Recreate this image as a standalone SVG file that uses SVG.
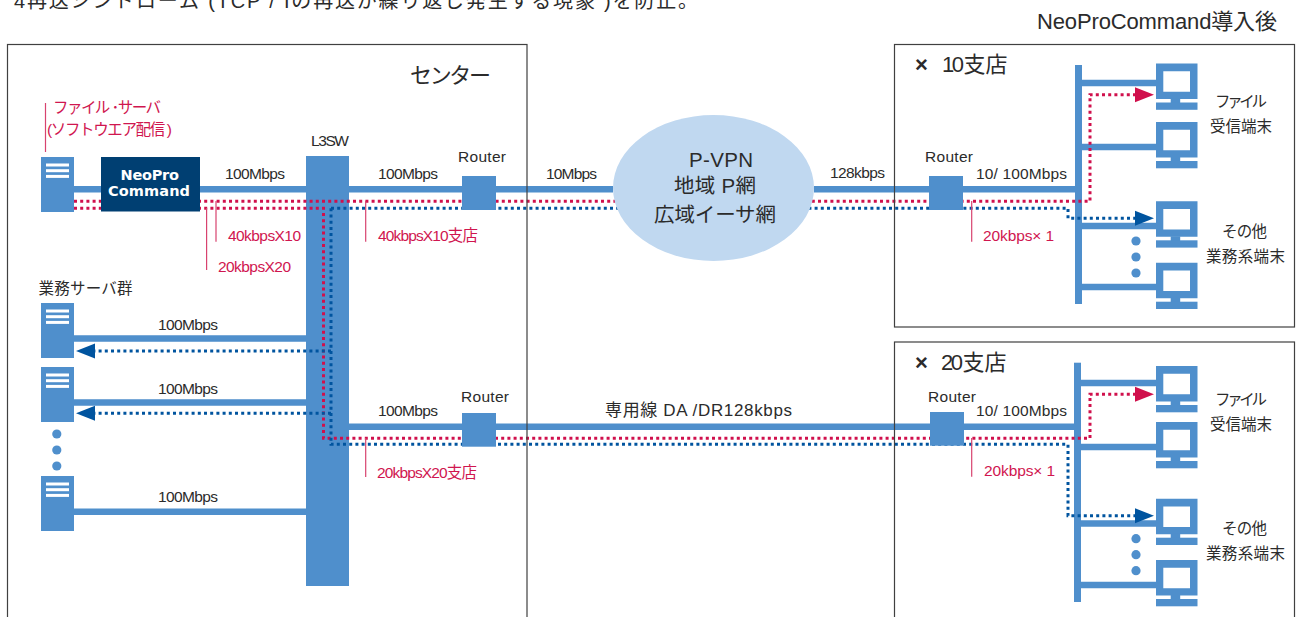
<svg xmlns="http://www.w3.org/2000/svg" width="1297" height="617" viewBox="0 0 1297 617">
<style>
text{font-family:"Liberation Sans","Noto Sans CJK JP",sans-serif;fill:#2b2b2b;font-size:15.5px}
.r{fill:#d0164f}
.l{fill:#4f8fcc}
.b{fill:none;stroke:#404040;stroke-width:1.2}
.w{stroke:#4f8fcc;stroke-width:6.6;fill:none}
.dr{stroke:#d0104c;stroke-width:3;stroke-dasharray:3 3.2;fill:none}
.db{stroke:#00549f;stroke-width:3;stroke-dasharray:3 3.2;fill:none}
.ld{stroke:#d8436f;stroke-width:1.2;fill:none}
.big{font-size:20.5px}
.lb{font-size:15.5px}
.hd{font-size:22px}
.np{font-family:"DejaVu Sans",sans-serif;font-weight:700;font-size:14.5px;fill:#fff}
</style>
<defs>
<marker id="ar" markerUnits="userSpaceOnUse" markerWidth="19" markerHeight="16" refX="0" refY="8" orient="auto"><path d="M0,0.5L19,8L0,15.5z" fill="#d0104c"/></marker>
<marker id="ab" markerUnits="userSpaceOnUse" markerWidth="19" markerHeight="16" refX="0" refY="8" orient="auto"><path d="M0,0.5L19,8L0,15.5z" fill="#00549f"/></marker>
<g id="srv"><rect width="33" height="55" fill="#4f8fcc"/><rect x="5" y="6.5" width="23" height="3" fill="#fff"/><rect x="5" y="12.2" width="23" height="3" fill="#fff"/><rect x="5" y="17.9" width="23" height="3" fill="#fff"/></g>
<g id="pc"><path fill-rule="evenodd" d="M0,0H41.5V35.5H0ZM7.3,7.7V28.3H34V7.7Z" fill="#4f8fcc"/><rect x="14.7" y="35" width="9.5" height="5" fill="#4f8fcc"/><rect y="39" width="41.5" height="7.3" fill="#4f8fcc"/></g>
<g id="dots"><circle cx="0" cy="0" r="4.6" fill="#4f8fcc"/><circle cx="0" cy="16" r="4.6" fill="#4f8fcc"/><circle cx="0" cy="32" r="4.6" fill="#4f8fcc"/></g>
</defs>
<rect width="1297" height="617" fill="#fff"/>
<text x="14" y="8" style="font-size:20px" textLength="684">4再送シンドローム (TCP / Iの再送が繰り返し発生する現象 )を防止。</text>
<text x="1037" y="29" style="font-size:22px" textLength="240">NeoProCommand導入後</text>

<g id="l3sw"><rect x="306" y="156" width="43" height="430" fill="#4f8fcc"/><text x="311" y="146" textLength="38">L3SW</text></g>

<g id="connectors">
<path class="w" d="M74,189.3H613M814,189.3H1076"/>
<path class="w" d="M74,338.5H306M74,402.5H306M74,511.8H306"/>
<path class="w" d="M349,426.7H1075"/>
<path class="w" d="M1082,83H1157M1082,147H1157M1082,226H1157M1082,287H1157"/>
<path class="w" d="M1081,383H1157M1081,447H1157M1081,523.5H1157M1081,585H1157"/>
<rect class="l" x="1075" y="65" width="7" height="239"/>
<rect class="l" x="1074" y="362.7" width="7" height="239.3"/>
<path class="dr" d="M74,201.3H1090V94.7H1135" marker-end="url(#ar)"/>
<path class="dr" d="M74,208.3H323.5V438.3H1090V394.3H1135" marker-end="url(#ar)"/>
<path class="db" d="M331,208.3H1068V218.3H1135" marker-end="url(#ab)"/>
<path class="db" d="M331,208.3V444.3H1068V515.7H1135" marker-end="url(#ab)"/>
<path class="db" d="M331,351H95" marker-end="url(#ab)"/>
<path class="db" d="M331,413.3H95" marker-end="url(#ab)"/>
<path class="ld" d="M45.5,103V152M206.6,208V270M216,201V241.7M365.7,201V241.7M971.7,201V241.7M365.7,438V477M971.7,438V476.7"/>
<text x="225" y="179" textLength="60">100Mbps</text>
<text x="378" y="179" textLength="60">100Mbps</text>
<text x="546" y="179" textLength="51">10Mbps</text>
<text x="830" y="178" textLength="55">128kbps</text>
<text x="976" y="179" textLength="91">10/ 100Mbps</text>
<text x="158" y="330" textLength="60">100Mbps</text>
<text x="158" y="394" textLength="60">100Mbps</text>
<text x="158" y="502" textLength="60">100Mbps</text>
<text x="378" y="416" textLength="60">100Mbps</text>
<text x="976" y="416" textLength="91">10/ 100Mbps</text>
<text x="605" y="416" style="font-size:17px" textLength="187">専用線 DA /DR128kbps</text>
<text class="r" x="228" y="241" textLength="73">40kbpsX10</text>
<text class="r" x="218" y="272" textLength="73">20kbpsX20</text>
<text class="r" x="378" y="241" textLength="100">40kbpsX10支店</text>
<text class="r" x="377" y="478" textLength="100">20kbpsX20支店</text>
<text class="r" x="983" y="241" textLength="71">20kbps× 1</text>
<text class="r" x="984" y="476" textLength="71">20kbps× 1</text>
</g>

<g id="center"><rect class="b" x="7.5" y="44.5" width="519.5" height="590"/><text class="hd" x="410" y="83" textLength="81">センター</text></g>
<g id="branch10"><rect class="b" x="894.5" y="44.5" width="400" height="282.5"/><text class="hd" y="72"><tspan x="915" font-weight="700">×</tspan><tspan x="942" letter-spacing="-2.5">10</tspan><tspan dx="2">支店</tspan></text></g>
<g id="branch20"><rect class="b" x="894.5" y="342" width="400" height="290"/><text class="hd" y="370"><tspan x="915" font-weight="700">×</tspan><tspan x="941" letter-spacing="-2.5">20</tspan><tspan dx="2">支店</tspan></text></g>

<g id="file-server"><use href="#srv" x="41" y="157"/><text class="r" x="53" y="113" textLength="108">ファイル ･サーバ</text><text class="r" x="47" y="135" textLength="125">(ソフトウエア配信 )</text></g>
<g id="neopro"><rect x="101" y="157" width="99" height="54.5" fill="#003f72"/><text class="np" x="120.5" y="180" textLength="58.5">NeoPro</text><text class="np" x="108" y="196" textLength="82">Command</text></g>
<g id="biz-server1"><use href="#srv" x="41" y="303"/><text class="lb" x="38.5" y="294" textLength="94">業務サーバ群</text></g>
<g id="biz-server2"><use href="#srv" x="41" y="367"/></g>
<use id="biz-dots" href="#dots" x="56.8" y="434"/>
<g id="biz-server3"><use href="#srv" x="41" y="476"/></g>

<g id="router-c1"><rect x="462" y="176" width="34" height="34" fill="#4f8fcc"/><text x="458" y="162" textLength="48">Router</text></g>
<g id="router-c2"><rect x="462" y="413" width="34" height="33.7" fill="#4f8fcc"/><text x="461" y="402" textLength="48">Router</text></g>
<g id="router-b1"><rect x="929" y="176" width="34" height="34" fill="#4f8fcc"/><text x="925" y="162" textLength="48">Router</text></g>
<g id="router-b2"><rect x="930" y="412" width="34" height="33.7" fill="#4f8fcc"/><text x="928" y="402" textLength="48">Router</text></g>

<g id="cloud"><ellipse cx="713.5" cy="188" rx="100.5" ry="73" fill="#c0d8f0"/>
<text class="big" x="689" y="167" textLength="64">P-VPN</text>
<text class="big" x="674" y="193" textLength="82">地域 P網</text>
<text class="big" x="654" y="222" textLength="122">広域イーサ網</text></g>

<g id="pcs-b1"><use href="#pc" x="1156" y="63.5"/><use href="#pc" x="1156" y="122"/><use href="#pc" x="1156" y="201.3"/><use href="#pc" x="1156" y="262.7"/><use href="#dots" x="1136" y="241"/>
<text class="lb" x="1215" y="107" textLength="52">ファイル</text><text class="lb" x="1210" y="132" textLength="62">受信端末</text><text class="lb" x="1222" y="237" textLength="45">その他</text><text class="lb" x="1206" y="262" textLength="79">業務系端末</text></g>
<g id="pcs-b2"><use href="#pc" x="1156" y="366"/><use href="#pc" x="1156" y="422"/><use href="#pc" x="1156" y="498.7"/><use href="#pc" x="1156" y="560"/><use href="#dots" x="1136" y="538.7"/>
<text class="lb" x="1215" y="405" textLength="52">ファイル</text><text class="lb" x="1210" y="430" textLength="62">受信端末</text><text class="lb" x="1222" y="534" textLength="45">その他</text><text class="lb" x="1206" y="559" textLength="79">業務系端末</text></g>
</svg>
